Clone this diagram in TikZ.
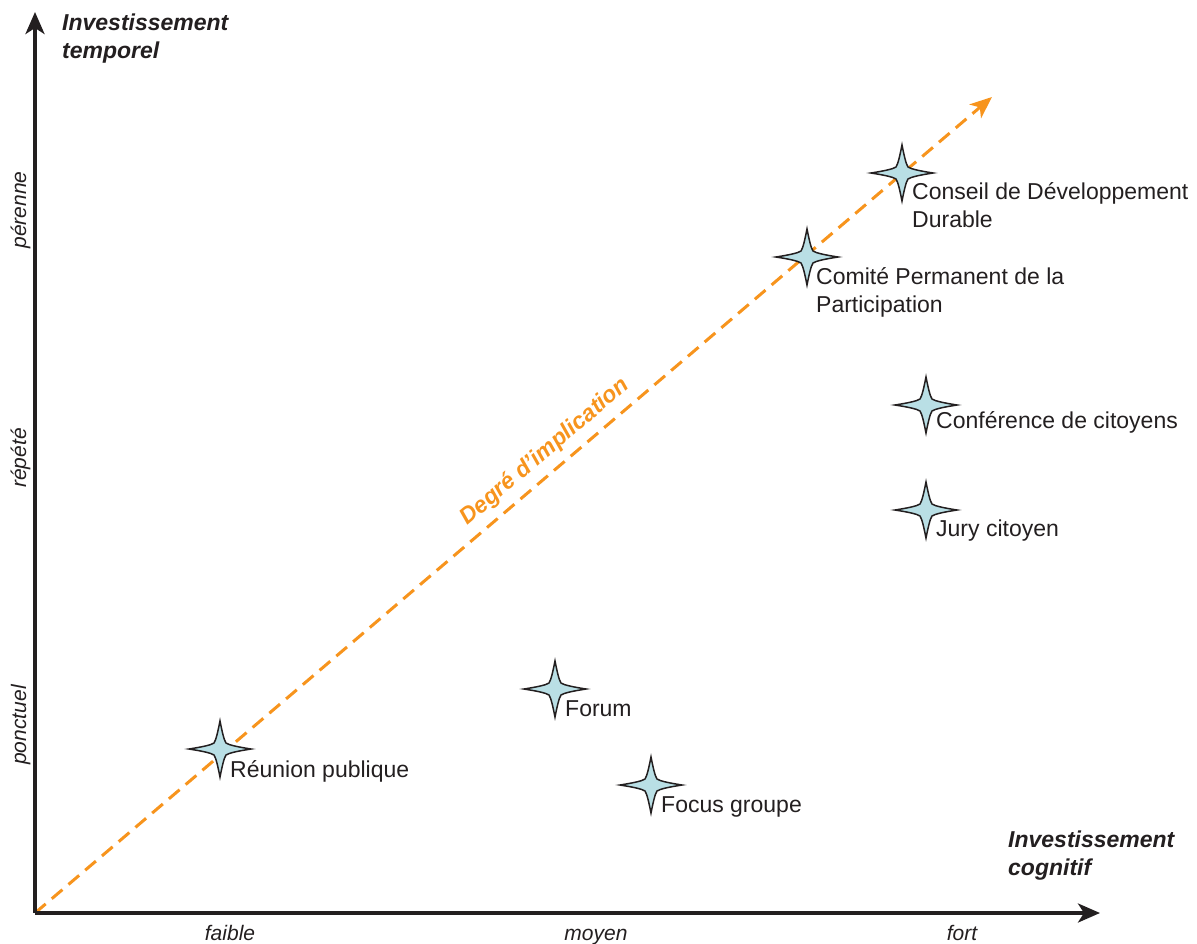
\documentclass[tikz,border=0pt]{standalone}
\usepackage{fontspec}
\setmainfont{Liberation Sans}
\usetikzlibrary{arrows.meta}
\definecolor{ink}{HTML}{231F20}
\definecolor{orangeline}{HTML}{F7941D}
\definecolor{starblue}{HTML}{B9DFE5}
\tikzset{
  axis/.style={draw=ink, line width=3.5pt, -{Stealth[length=22pt,width=19pt,inset=6pt]}},
  implication/.style={draw=orangeline, line width=3pt, dash pattern=on 14pt off 8pt, -{Stealth[length=22pt,width=18pt,inset=6pt]}},
  axistitle/.style={font=\fontsize{23}{28}\selectfont\bfseries\itshape, text=ink, align=left, inner sep=0pt, anchor=base west},
  tick/.style={font=\fontsize{21}{25}\selectfont\itshape, text=ink, inner sep=0pt, anchor=base},
  ytick/.style={font=\fontsize{21}{25}\selectfont\itshape, text=ink, inner sep=0pt, anchor=base, rotate=90},
  lbl/.style={font=\fontsize{23}{28}\selectfont, text=ink, align=left, inner sep=0pt, anchor=base west},
  astar/.pic={\draw[fill=starblue, draw=ink, line width=1.5pt, line join=miter]
    (0,-28) .. controls (2.2,-17) and (4,-9) .. (6,-6)
            .. controls (9,-4) and (17,-2.2) .. (31,0)
            .. controls (17,2.2) and (9,4) .. (6,6)
            .. controls (4,9) and (2.2,17) .. (0,28)
            .. controls (-2.2,17) and (-4,9) .. (-6,6)
            .. controls (-9,4) and (-17,2.2) .. (-31,0)
            .. controls (-17,-2.2) and (-9,-4) .. (-6,-6)
            .. controls (-4,-9) and (-2.2,-17) .. cycle;}
}
\begin{document}
\begin{tikzpicture}[x=1pt,y=-1pt]
\useasboundingbox (0,0) rectangle (1197,943);
% axes
\coordinate (O) at (35,913);
\coordinate (ytip) at (35,12);
\coordinate (xtip) at (1100,913);
\coordinate (dtip) at (992,97);
\draw[implication] (O) -- (dtip);
\draw[axis] (O) -- (ytip);
\draw[axis] (O) -- (xtip);
% axis titles (base = last line)
\node[axistitle] (yt) at (62,58) {Investissement\\temporel};
\node[axistitle] (xt) at (1008,875) {Investissement\\cognitif};
% ticks
\node[tick] (faible) at (230,940) {faible};
\node[tick] (moyen) at (596,940) {moyen};
\node[tick] (fort) at (962,940) {fort};
\node[ytick] (perenne) at (26,210) {pérenne};
\node[ytick] (repete) at (26,458) {répété};
\node[ytick] (ponctuel) at (26,725) {ponctuel};
% diagonal label
\node[font=\fontsize{23}{28}\selectfont\bfseries\itshape, text=orangeline, rotate=40.45, inner sep=0pt] (degre) at (545,452) {Degré d’implication};
% stars
\coordinate (s1) at (220,749);
\coordinate (s2) at (555,689);
\coordinate (s3) at (651,785);
\coordinate (s4) at (926,510);
\coordinate (s5) at (926,405);
\coordinate (s6) at (807,257);
\coordinate (s7) at (902,173);
\foreach \s in {s1,s2,s3,s4,s5,s6,s7} { \pic at (\s) {astar}; }
\node[lbl] (l1) at ([shift={(10,28)}]s1) {Réunion publique};
\node[lbl] (l2) at ([shift={(10,27)}]s2) {Forum};
\node[lbl] (l3) at ([shift={(10,27)}]s3) {Focus groupe};
\node[lbl] (l4) at ([shift={(10,26)}]s4) {Jury citoyen};
\node[lbl] (l5) at ([shift={(10,23)}]s5) {Conférence de citoyens};
\node[lbl] (l6) at ([shift={(9,55)}]s6) {Comité Permanent de la\\Participation};
\node[lbl] (l7) at ([shift={(10,54)}]s7) {Conseil de Développement\\Durable};
\end{tikzpicture}
\end{document}
